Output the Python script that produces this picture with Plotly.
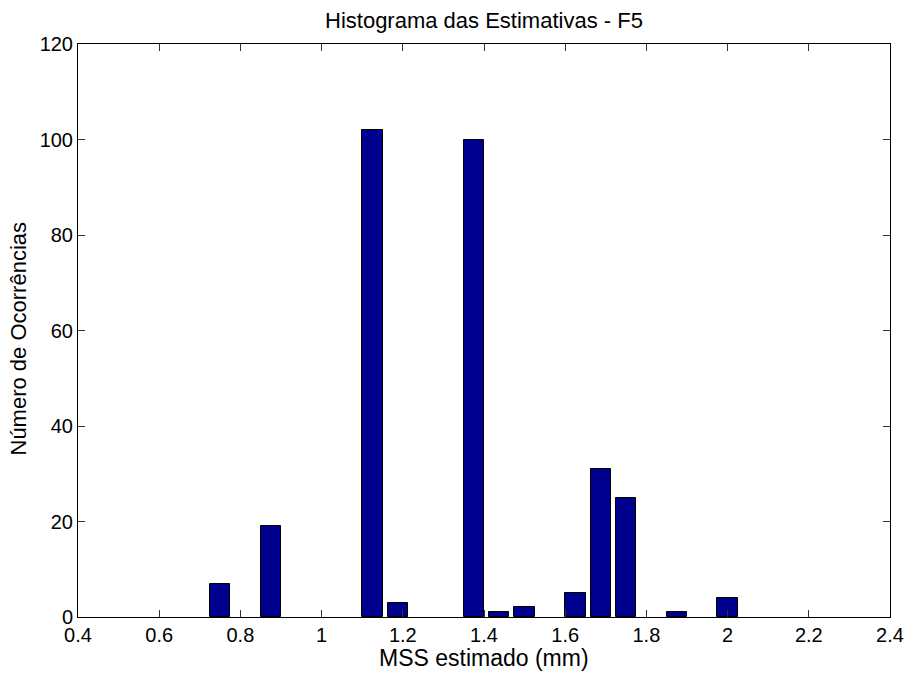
import plotly.graph_objects as go

# Histogram bin centres (mm) and counts
bin_centers = [0.75, 0.8125, 0.875, 0.9375, 1.0, 1.0625, 1.125, 1.1875, 1.25, 1.3125,
               1.375, 1.4375, 1.5, 1.5625, 1.625, 1.6875, 1.75, 1.8125, 1.875, 1.9375, 2.0]
counts = [7, 0, 19, 0, 0, 0, 102, 3, 0, 0,
          100, 1, 2, 0, 5, 31, 25, 0, 1, 0, 4]

x_tickvals = [0.4, 0.6, 0.8, 1.0, 1.2, 1.4, 1.6, 1.8, 2.0, 2.2, 2.4]
x_ticktext = ["0.4", "0.6", "0.8", "1", "1.2", "1.4", "1.6", "1.8", "2", "2.2", "2.4"]
y_tickvals = [0, 20, 40, 60, 80, 100, 120]

title_text = "Histograma das Estimativas - F5"
x_label = "MSS estimado (mm)"
y_label = "Número de Ocorrências"

FONT = "Liberation Sans, Arial, sans-serif"

# empty bins draw nothing
bx = [c for c, n in zip(bin_centers, counts) if n > 0]
by = [n for n in counts if n > 0]

fig = go.Figure()
fig.add_trace(go.Bar(
    x=bx, y=by, width=0.05,
    marker=dict(color="rgb(0,0,143)", line=dict(color="black", width=1)),
    showlegend=False,
))

axis_common = dict(
    showline=True, linecolor="black", linewidth=1, mirror="ticks",
    ticks="inside", ticklen=7, tickcolor="#333333", tickwidth=1,
    showgrid=False, zeroline=False, automargin=False,
    tickfont=dict(family=FONT, size=20, color="black"),
)

fig.update_layout(
    width=908, height=675,
    margin=dict(l=78, r=18, t=44, b=58),
    paper_bgcolor="white", plot_bgcolor="white",
    bargap=0,
    title=dict(text=title_text, x=0.533, xanchor="center",
               yref="container", y=1 - 20 / 675, yanchor="middle",
               font=dict(family=FONT, size=22, color="black")),
    xaxis=dict(range=[0.4, 2.4], tickvals=x_tickvals, ticktext=x_ticktext, **axis_common),
    yaxis=dict(range=[0, 120], tickvals=y_tickvals, **axis_common),
    annotations=[
        dict(text=x_label, xref="paper", yref="paper", x=0.5, y=0,
             xanchor="center", yanchor="middle", yshift=-41, showarrow=False,
             font=dict(family=FONT, size=23, color="black")),
        dict(text=y_label, xref="paper", yref="paper", x=0, y=0.5,
             xanchor="center", yanchor="middle", xshift=-60, yshift=-8,
             textangle=-90, showarrow=False,
             font=dict(family=FONT, size=22, color="black")),
    ],
)

fig.write_html("out.html")
